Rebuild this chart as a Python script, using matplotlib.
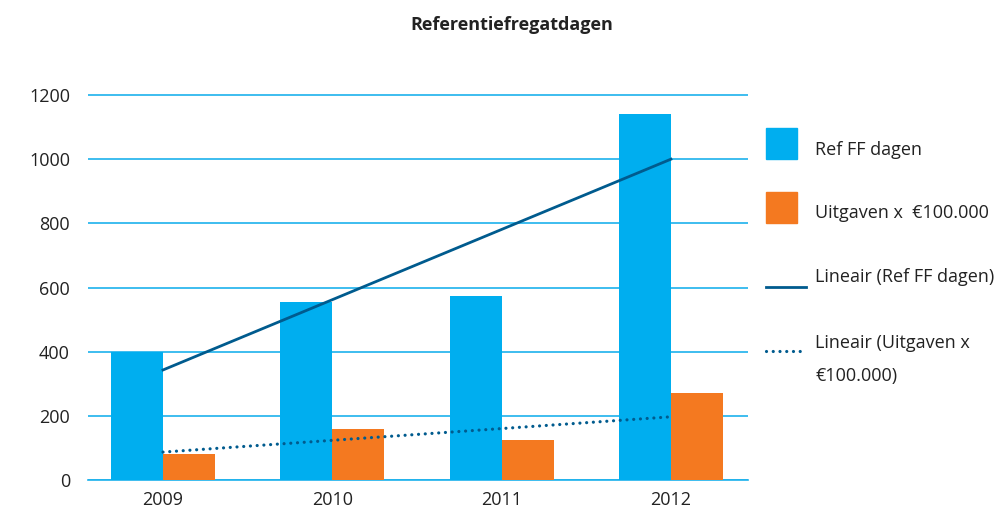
import matplotlib
matplotlib.use("Agg")
import matplotlib.pyplot as plt
from matplotlib.patches import Rectangle
from matplotlib.lines import Line2D
import numpy as np

plt.rcParams['font.family'] = ['Open Sans', 'DejaVu Sans']

# data
years = ['2009', '2010', '2011', '2012']
ref_ff_dagen = [400, 554, 573, 1141]
uitgaven = [81, 159, 125, 270]
# trend lines (start, end) as drawn in the chart
trend_ref = [343, 1000]
trend_uitg = [87, 197]

BLUE = '#00AEEF'
ORANGE = '#F47920'
DARK = '#005B8E'
GRID = '#1DB1EC'
TXT = '#222222'

fig = plt.figure(figsize=(10.08, 5.11), dpi=100)
# axes a few pixels taller than the 1200 line so the top gridline is not clipped
ax = fig.add_axes([88/1008, 1 - 480/511, 660/1008, 390/511])

x = np.arange(len(years))
w = 0.307
ax.bar(x - w/2, ref_ff_dagen, w, color=BLUE, zorder=3)
ax.bar(x + w/2, uitgaven, w, color=ORANGE, zorder=3)

ax.plot([x[0], x[-1]], trend_ref, color=DARK, lw=2.0, zorder=4)
ax.plot([x[0], x[-1]], trend_uitg, color=DARK, lw=2.3, zorder=4,
        linestyle=(0, (0.01, 2.1)), dash_capstyle='round')

ax.set_xlim(-0.443, 3.455)
ax.set_ylim(0, 1200 * 390 / 385)
ax.set_yticks(range(0, 1201, 200))
ax.set_xticks(x)
ax.set_xticklabels(years)
ax.yaxis.grid(True, color=GRID, lw=1.2, zorder=0)
ax.set_axisbelow(True)
for s in ['top', 'right', 'left']:
    ax.spines[s].set_visible(False)
ax.spines['bottom'].set_color(GRID)
ax.spines['bottom'].set_linewidth(1.2)
ax.tick_params(axis='both', length=0, labelsize=13, labelcolor=TXT)
ax.tick_params(axis='y', pad=13)
ax.tick_params(axis='x', pad=8)

fig.text(512/1008, 1 - 25/511, 'Referentiefregatdagen', ha='center', va='center',
         fontsize=13, fontweight='bold', color=TXT)

# legend drawn by hand to follow the original placement
def fy(py):
    return 1 - py/511

def fx(px):
    return px/1008

fig.patches.append(Rectangle((fx(766), fy(159)), 31/1008, 31/511, color=BLUE,
                             transform=fig.transFigure, figure=fig))
fig.patches.append(Rectangle((fx(766), fy(223)), 31/1008, 31/511, color=ORANGE,
                             transform=fig.transFigure, figure=fig))
fig.lines.append(Line2D([fx(766), fx(806)], [fy(287), fy(287)], color=DARK, lw=2.0,
                        transform=fig.transFigure, figure=fig))
fig.lines.append(Line2D([fx(766), fx(806)], [fy(351), fy(351)], color=DARK, lw=2.3,
                        linestyle=(0, (0.01, 2.1)), dash_capstyle='round',
                        transform=fig.transFigure, figure=fig))

legend_labels = [('Ref FF dagen', 150), ('Uitgaven x  €100.000', 213),
                 ('Lineair (Ref FF dagen)', 277), ('Lineair (Uitgaven x', 343),
                 ('€100.000)', 376)]
for lab, py in legend_labels:
    fig.text(fx(815), fy(py), lab, ha='left', va='center', fontsize=13, color=TXT)

fig.savefig('out.png', dpi=100)
